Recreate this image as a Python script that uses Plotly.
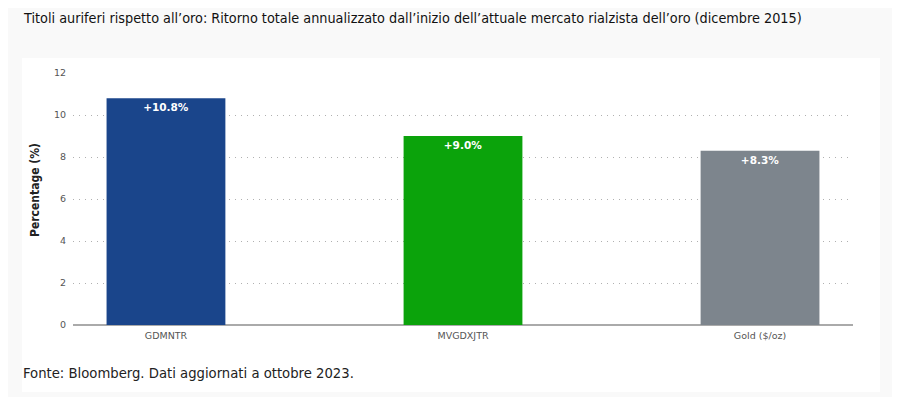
import plotly.graph_objects as go

categories = ["GDMNTR", "MVGDXJTR", "Gold ($/oz)"]
values = [10.8, 9.0, 8.3]
labels = ["+10.8%", "+9.0%", "+8.3%"]
colors = ["#1a458b", "#0ba30b", "#7d858d"]
y_ticks = [0, 2, 4, 6, 8, 10, 12]

title_text = "Titoli auriferi rispetto all\u2019oro: Ritorno totale annualizzato dall\u2019inizio dell\u2019attuale mercato rialzista dell\u2019oro (dicembre 2015)"
footer_text = "Fonte: Bloomberg. Dati aggiornati a ottobre 2023."
y_title = "Percentage (%)"

# page has an 8px body margin; figure sized to fit in the 900x397 window
OFF = 8
W, H = 900 - OFF, 397 - OFF
L, R, T, B = 65, 47, 65, 72
pw = W - L - R
ph = H - T - B

def px(x):
    # x given in page pixels
    return (x - OFF - L) / pw

def py(y):
    return (H - B - (y - OFF)) / ph

fig = go.Figure()
fig.add_trace(go.Bar(
    x=categories, y=values, text=labels,
    marker=dict(color=colors, line=dict(width=0)),
    width=0.4,
    textposition="inside", insidetextanchor="end",
    textfont=dict(family="DejaVu Sans", size=10.5, color="white", weight="bold"),
    textangle=0,
    hoverinfo="skip",
))

fig.update_layout(
    width=W, height=H,
    margin=dict(l=L, r=R, t=T, b=B),
    paper_bgcolor="#f9f9f9",
    plot_bgcolor="rgba(0,0,0,0)",
    showlegend=False,
    xaxis=dict(
        range=[-0.313, 2.313],
        showgrid=False, zeroline=False,
        showline=False,
        ticks="", tickfont=dict(family="DejaVu Sans", size=9.5, color="#555555"),
        ticklabelstandoff=3,
    ),
    yaxis=dict(
        range=[0, 12], tickvals=y_ticks,
        showgrid=True, gridcolor="#b0b0b0", griddash="1px,5px", gridwidth=1,
        zeroline=True, zerolinecolor="#aaaaaa", zerolinewidth=1.5,
        showline=False, ticks="",
        tickfont=dict(family="DejaVu Sans", size=9.5, color="#555555"),
        ticklabelstandoff=6,
    ),
    shapes=[dict(
        type="rect", xref="paper", yref="paper",
        x0=px(22), x1=px(880), y0=py(392), y1=py(58),
        fillcolor="white", line=dict(width=0), layer="below",
    )],
    annotations=[
        dict(text=title_text, xref="paper", yref="paper", x=px(21), y=py(18),
             xanchor="left", yanchor="middle", showarrow=False,
             font=dict(family="DejaVu Sans Condensed", size=14.3, color="#111111")),
        dict(text=footer_text, xref="paper", yref="paper", x=px(21), y=py(372),
             xanchor="left", yanchor="middle", showarrow=False,
             font=dict(family="DejaVu Sans Condensed", size=14.7, color="#222222")),
        dict(text=y_title, xref="paper", yref="paper", x=px(35), y=py(190),
             xanchor="center", yanchor="middle", showarrow=False, textangle=-90,
             font=dict(family="DejaVu Sans Condensed", size=12, color="#222222", weight="bold")),
    ],
)

fig.write_html("out.html")
